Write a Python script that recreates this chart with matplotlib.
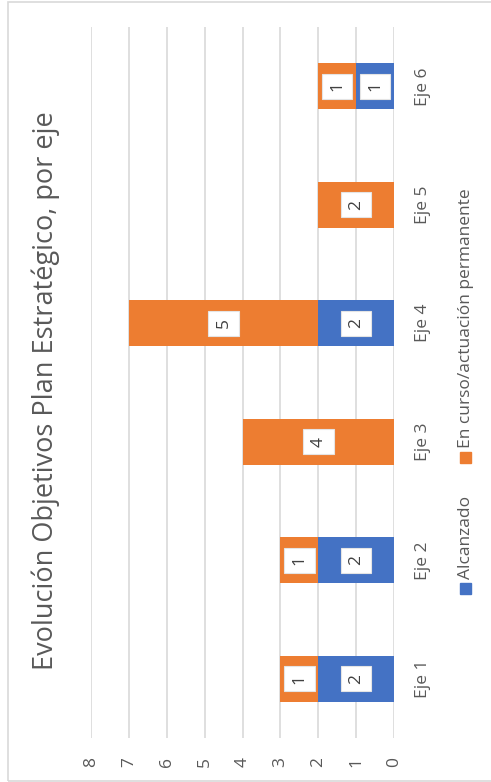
import matplotlib
matplotlib.use('Agg')
import matplotlib.pyplot as plt
from matplotlib.patches import Rectangle

# datos del grafico
ejes = ['Eje 1', 'Eje 2', 'Eje 3', 'Eje 4', 'Eje 5', 'Eje 6']
alcanzado = [2, 2, 0, 2, 0, 1]
en_curso = [1, 1, 4, 5, 2, 1]
series = ['Alcanzado', 'En curso/actuación permanente']
valor_ticks = [0, 1, 2, 3, 4, 5, 6, 7, 8]
titulo = 'Evolución Objetivos Plan Estratégico, por eje'

AZUL = '#4472C4'
NARANJA = '#ED7D31'
GRIS = '#595959'
W, H = 491, 782


def main():
	plt.rcParams['font.family'] = ['Open Sans', 'DejaVu Sans']

	fig = plt.figure(figsize=(W / 100, H / 100), dpi=100)
	ax = fig.add_axes([91 / W, 44 / H, 303 / W, 711 / H])

	pos = list(range(len(ejes)))
	b1 = ax.barh(pos, alcanzado, height=0.39, color=AZUL, zorder=2)
	b2 = ax.barh(pos, en_curso, left=alcanzado, height=0.39, color=NARANJA, zorder=2)

	for bars, vals in ((b1, alcanzado), (b2, en_curso)):
		labels = [str(v) if v else '' for v in vals]
		ax.bar_label(bars, labels=labels, label_type='center', rotation=90,
			fontsize=12.5, color='#404040',
			bbox=dict(boxstyle='square,pad=0.42', fc='white', ec='#E4E4E4', lw=0.8))

	ax.set_xlim(8, 0)
	ax.set_ylim(-0.5, 5.5)
	ax.set_xticks(valor_ticks)
	ax.set_xticklabels([str(v) for v in valor_ticks], rotation=90, va='top', ha='center')
	ax.xaxis.grid(True, color='#D9D9D9', lw=1.2, zorder=0)
	ax.set_axisbelow(True)

	ax.yaxis.tick_right()
	ax.set_yticks(pos)
	ax.set_yticklabels(ejes, rotation=90, va='center', ha='left')

	ax.tick_params(axis='x', length=0, pad=14, labelsize=12.5, labelcolor=GRIS)
	ax.tick_params(axis='y', length=0, pad=15, labelsize=12.5, labelcolor=GRIS)
	for s in ax.spines.values():
		s.set_visible(False)

	# titulo
	fig.text(46 / W, 1 - 391 / H, titulo, rotation=90, ha='center', va='center',
		fontsize=19.5, color=GRIS)

	# leyenda
	fig.patches.append(Rectangle((460 / W, 1 - 594 / H), 11 / W, 11 / H,
		transform=fig.transFigure, color=AZUL))
	fig.text(466 / W, 1 - 579 / H, series[0], rotation=90, ha='center', va='bottom',
		fontsize=12.5, color=GRIS)
	fig.patches.append(Rectangle((460 / W, 1 - 463 / H), 11 / W, 11 / H,
		transform=fig.transFigure, color=NARANJA))
	fig.text(466 / W, 1 - 448 / H, series[1], rotation=90, ha='center', va='bottom',
		fontsize=12.5, color=GRIS)

	# borde del grafico
	fig.patches.append(Rectangle((8 / W, 1 - 781 / H), 1.0, 779 / H, fill=False,
		ec='#D9D9D9', lw=1.2, transform=fig.transFigure))

	fig.savefig('out.png', dpi=100)


if __name__ == '__main__':
	main()
